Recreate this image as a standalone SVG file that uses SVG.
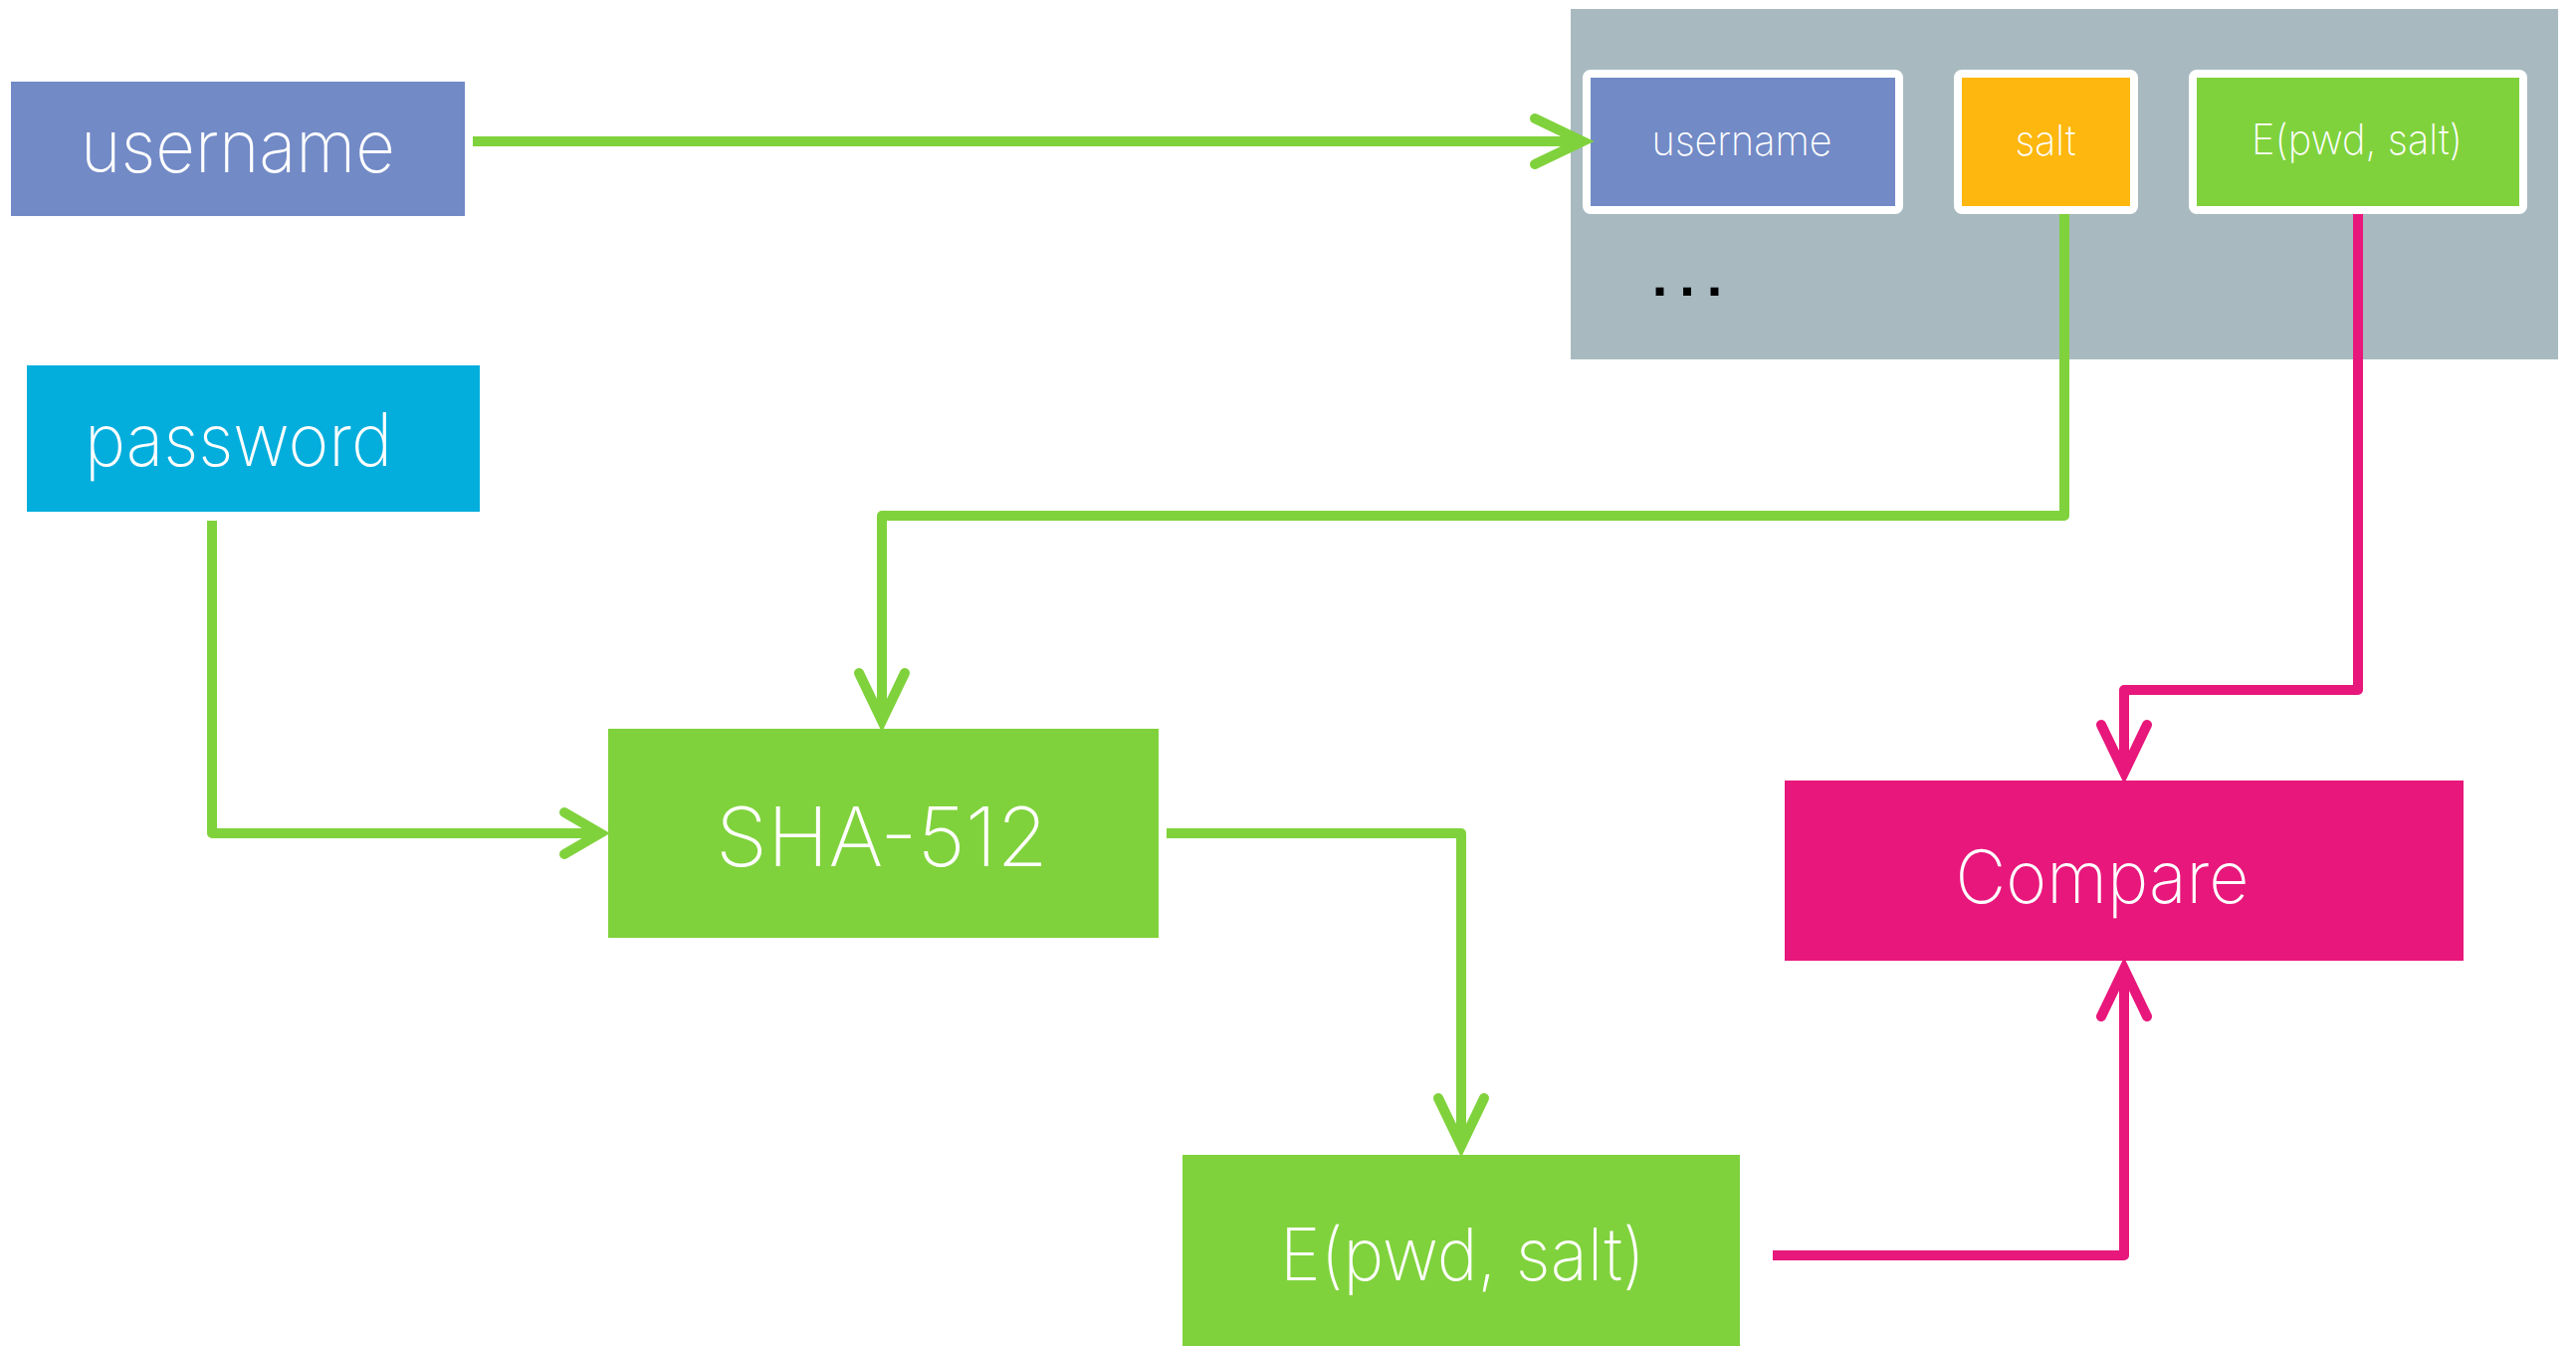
<svg xmlns="http://www.w3.org/2000/svg" width="2588" height="1352" viewBox="0 0 2588 1352">
  <style>
    .lbl { font-family: Inter, "Helvetica Neue", "Liberation Sans", Arial, sans-serif; font-weight: 250; fill: #ffffff; text-anchor: middle; }
    .wire { fill: none; stroke-width: 10; stroke-linejoin: round; stroke-linecap: butt; }
    .green { stroke: #80d23c; }
    .pink { stroke: #e8177b; }
    .cell { stroke: #ffffff; stroke-width: 8; }
  </style>
  <defs>
    <marker id="head-green" markerUnits="userSpaceOnUse" viewBox="-60 -32 72 64" markerWidth="72" markerHeight="64" refX="-6" refY="0" orient="auto" overflow="visible">
      <path d="M -48 -23 L 0 0 L -48 23" fill="none" stroke="#80d23c" stroke-width="10" stroke-linecap="round" stroke-linejoin="miter"/>
    </marker>
    <marker id="head-pink" markerUnits="userSpaceOnUse" viewBox="-60 -32 72 64" markerWidth="72" markerHeight="64" refX="-6" refY="0" orient="auto" overflow="visible">
      <path d="M -48 -23 L 0 0 L -48 23" fill="none" stroke="#e8177b" stroke-width="10" stroke-linecap="round" stroke-linejoin="miter"/>
    </marker>
    <marker id="head-green-short" markerUnits="userSpaceOnUse" viewBox="-60 -32 72 64" markerWidth="72" markerHeight="64" refX="-6" refY="0" orient="auto" overflow="visible">
      <path d="M -36 -21 L 0 0 L -36 21" fill="none" stroke="#80d23c" stroke-width="10" stroke-linecap="round" stroke-linejoin="miter"/>
    </marker>
  </defs>

  <rect width="2588" height="1352" fill="#ffffff"/>

  <!-- user table -->
  <g id="table">
    <rect x="1578" y="9" width="992" height="352" fill="#a8bac0"/>
    <text x="1701" y="297" font-family="Liberation Sans, Arial, sans-serif" font-weight="bold" font-size="56" fill="#000000" text-anchor="middle" letter-spacing="12">...</text>
  </g>
  <g id="row-username">
    <rect class="cell" x="1594" y="74" width="314" height="137" rx="4" fill="#728ac6"/>
    <text class="lbl" x="1750" y="156" font-size="42" textLength="181" lengthAdjust="spacingAndGlyphs">username</text>
  </g>
  <g id="row-salt">
    <rect class="cell" x="1967" y="74" width="177" height="137" rx="4" fill="#fdb70e"/>
    <text class="lbl" x="2055" y="156" font-size="42" textLength="61" lengthAdjust="spacingAndGlyphs">salt</text>
  </g>
  <g id="row-hash">
    <rect class="cell" x="2203" y="74" width="332" height="137" rx="4" fill="#80d23c"/>
    <text class="lbl" x="2368" y="155" font-size="42" textLength="212" lengthAdjust="spacingAndGlyphs">E(pwd, salt)</text>
  </g>

  <!-- inputs -->
  <g id="username">
    <rect x="11" y="82" width="456" height="135" fill="#728ac6"/>
    <text class="lbl" x="239" y="173" font-size="74" textLength="316" lengthAdjust="spacingAndGlyphs">username</text>
  </g>
  <g id="password">
    <rect x="27" y="367" width="455" height="147" fill="#03aedd"/>
    <text class="lbl" x="239.5" y="468" font-size="74" textLength="309" lengthAdjust="spacingAndGlyphs">password</text>
  </g>

  <!-- processing -->
  <g id="sha512">
    <rect x="611" y="732" width="553" height="210" fill="#80d23c"/>
    <text class="lbl" x="886" y="870" font-size="82" textLength="334" lengthAdjust="spacingAndGlyphs">SHA-512</text>
  </g>
  <g id="hash">
    <rect x="1188" y="1160" width="560" height="200" fill="#80d23c"/>
    <text class="lbl" x="1469.5" y="1286" font-size="73" textLength="367" lengthAdjust="spacingAndGlyphs">E(pwd, salt)</text>
  </g>
  <g id="compare">
    <rect x="1793" y="784" width="682" height="181" fill="#e8177b"/>
    <text class="lbl" x="2112" y="907" font-size="74" textLength="295" lengthAdjust="spacingAndGlyphs">Compare</text>
  </g>

  <!-- connectors -->
  <g id="connectors">
    <path class="wire green" d="M 475 142 H 1584" marker-end="url(#head-green)"/>
    <path class="wire green" d="M 213 523 V 837 H 597" marker-end="url(#head-green-short)"/>
    <path class="wire green" d="M 2074 215 V 518 H 886 V 718" marker-end="url(#head-green)"/>
    <path class="wire green" d="M 1172 837 H 1468 V 1145" marker-end="url(#head-green)"/>
    <path class="wire pink" d="M 2369 215 V 693 H 2134 V 770" marker-end="url(#head-pink)"/>
    <path class="wire pink" d="M 1781 1261 H 2134 V 979" marker-end="url(#head-pink)"/>
  </g>
</svg>
